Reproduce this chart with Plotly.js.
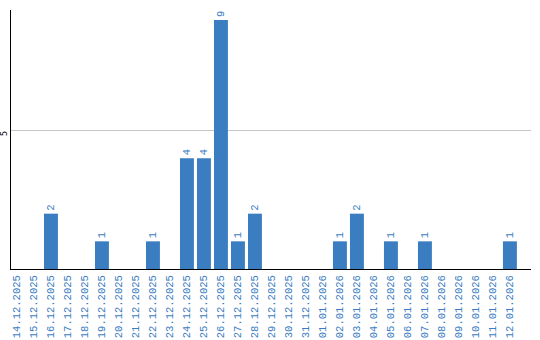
<!DOCTYPE html>
<html>
<head>
<meta charset="utf-8">
<script src="https://cdn.plot.ly/plotly-3.0.1.min.js"></script>
<style>html,body{margin:0;padding:0;background:#fff;}#chart{width:540px;height:340px;}</style>
</head>
<body>
<div id="chart"></div>
<script>
const dates = ["14.12.2025","15.12.2025","16.12.2025","17.12.2025","18.12.2025","19.12.2025","20.12.2025","21.12.2025","22.12.2025","23.12.2025","24.12.2025","25.12.2025","26.12.2025","27.12.2025","28.12.2025","29.12.2025","30.12.2025","31.12.2025","01.01.2026","02.01.2026","03.01.2026","04.01.2026","05.01.2026","06.01.2026","07.01.2026","08.01.2026","09.01.2026","10.01.2026","11.01.2026","12.01.2026"];
const counts = [0,0,2,0,0,1,0,0,1,0,4,4,9,1,2,0,0,0,0,1,2,0,1,0,1,0,0,0,0,1];
const labels = counts.map(v => v > 0 ? String(v) : "");
const yTicks = [5];

const blue = "#3b7dc1";
const trace = {
  type: "bar",
  x: dates,
  y: counts,
  text: labels,
  textposition: "outside",
  textangle: -90,
  cliponaxis: false,
  textfont: {family: "Liberation Mono", size: 10.5, color: blue},
  marker: {color: blue},
  hoverinfo: "none"
};
const layout = {
  width: 540, height: 340,
  margin: {l: 11, r: 9, t: 10, b: 71, pad: 0},
  paper_bgcolor: "#fff", plot_bgcolor: "#fff",
  showlegend: false,
  bargap: 0.18,
  xaxis: {
    type: "category",
    range: [-0.35, 30.24],
    showline: true, linecolor: "#000", linewidth: 1,
    showgrid: false, zeroline: false,
    ticks: "",
    tickangle: -90,
    ticklabelstandoff: 1,
    tickfont: {family: "Liberation Mono", size: 10.5, color: blue},
    automargin: false
  },
  yaxis: {
    range: [0, 9.36],
    tickvals: yTicks,
    ticktext: yTicks.map(String),
    tickangle: -90,
    ticklabelshift: 4,
    tickfont: {family: "DejaVu Sans", size: 8, color: "#000"},
    showline: true, linecolor: "#000", linewidth: 1,
    showgrid: true, gridcolor: "#c8c8c8", gridwidth: 1,
    zeroline: false,
    ticks: "",
    automargin: false
  }
};
Plotly.newPlot("chart", [trace], layout, {displayModeBar: false, staticPlot: true});
</script>
</body>
</html>
